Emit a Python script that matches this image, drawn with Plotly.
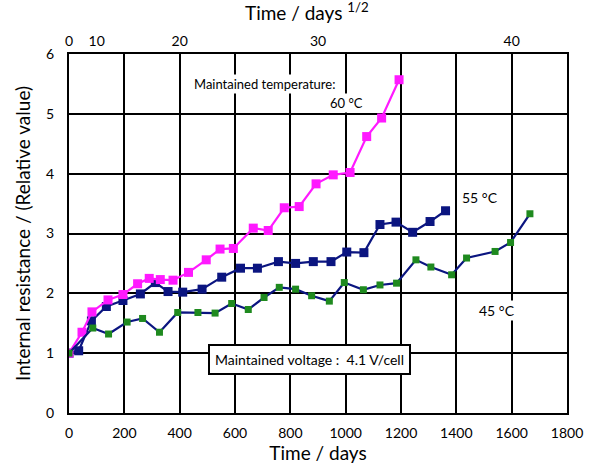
import plotly.graph_objects as go

# 60 °C
days_60 = [0, 47, 83, 141, 195, 248, 290, 330, 376, 432, 496, 546, 594, 666, 720,
           778, 832, 893, 955, 1016, 1076, 1130, 1193]
res_60 = [1.0, 1.35, 1.69, 1.89, 1.98, 2.16, 2.25, 2.23, 2.22, 2.35, 2.56, 2.74, 2.75,
          3.09, 3.05, 3.43, 3.45, 3.83, 3.98, 4.02, 4.62, 4.93, 5.57]

# 55 °C
days_55 = [0, 35, 81, 135, 195, 258, 312, 358, 411, 481, 552, 620, 681, 757, 819, 883,
           947, 1004, 1066, 1124, 1182, 1242, 1305, 1361]
res_55 = [1.0, 1.04, 1.54, 1.78, 1.88, 1.99, 2.18, 2.03, 2.02, 2.07, 2.27, 2.42, 2.42,
          2.53, 2.50, 2.53, 2.53, 2.69, 2.68, 3.15, 3.19, 3.02, 3.20, 3.38]

# 45 °C
days_45 = [0, 86, 143, 210, 266, 327, 393, 466, 528, 588, 648, 705, 760, 819, 877, 941,
           995, 1064, 1124, 1184, 1254, 1308, 1383, 1437, 1540, 1596, 1666]
res_45 = [1.0, 1.42, 1.32, 1.52, 1.58, 1.35, 1.68, 1.68, 1.67, 1.83, 1.73, 1.93, 2.10,
          2.07, 1.96, 1.87, 2.18, 2.06, 2.14, 2.17, 2.56, 2.44, 2.31, 2.59, 2.70, 2.85, 3.33]

x_ticks = [0, 200, 400, 600, 800, 1000, 1200, 1400, 1600, 1800]
y_ticks = [0, 1, 2, 3, 4, 5, 6]
sqrt_tick_days = [0, 100, 400, 900, 1600]
sqrt_tick_text = ["0", "10", "20", "30", "40"]

FONT = "Lato"
NAVY = "#0b1580"
MAGENTA = "#ff19ff"
GREEN = "#1f8a1f"

fig = go.Figure()
fig.add_trace(go.Scatter(x=days_55, y=res_55, mode="lines+markers",
                         line=dict(color=NAVY, width=2.2),
                         marker=dict(symbol="square", size=9, color=NAVY),
                         showlegend=False))
fig.add_trace(go.Scatter(x=days_60, y=res_60, mode="lines+markers",
                         line=dict(color=MAGENTA, width=2.2),
                         marker=dict(symbol="square", size=9, color=MAGENTA),
                         showlegend=False))
fig.add_trace(go.Scatter(x=days_45, y=res_45, mode="lines+markers",
                         line=dict(color=NAVY, width=2.2),
                         marker=dict(symbol="square", size=7, color=GREEN),
                         showlegend=False))
# invisible trace for the top axis
fig.add_trace(go.Scatter(x=[0, 1800], y=[0, 0], xaxis="x2", mode="markers",
                         marker=dict(opacity=0), showlegend=False, hoverinfo="skip"))

ann_font = dict(family=FONT, size=13, color="black")
fig.update_layout(
    width=603, height=468,
    margin=dict(l=69, r=36, t=54, b=55),
    paper_bgcolor="white", plot_bgcolor="white",
    font=dict(family=FONT, color="black", size=14),
    xaxis=dict(range=[0, 1800], tickvals=x_ticks, showgrid=True, gridcolor="black",
               gridwidth=2, showline=True, linecolor="black", linewidth=2, mirror=True,
               zeroline=False, ticks="", ticklabelstandoff=6,
               tickfont=dict(family=FONT, size=14),
               title=dict(text="Time / days", font=dict(family=FONT, size=19), standoff=1)),
    xaxis2=dict(range=[0, 1800], overlaying="x", side="top", tickvals=sqrt_tick_days,
                ticktext=sqrt_tick_text, showgrid=False, zeroline=False, ticks="",
                ticklabelstandoff=4, tickfont=dict(family=FONT, size=14), showline=False),
    yaxis=dict(range=[0, 6], tickvals=y_ticks, showgrid=True, gridcolor="black",
               gridwidth=2, showline=True, linecolor="black", linewidth=2, mirror=True,
               zeroline=False, ticks="", ticklabelstandoff=10,
               tickfont=dict(family=FONT, size=14),
               title=dict(text="Internal resistance / (Relative value)",
                          font=dict(family=FONT, size=19), standoff=10)),
    annotations=[
        dict(text="Time / days <sup>1/2</sup>", xref="paper", yref="paper",
             x=0.349, y=1.118, xanchor="left", yanchor="middle", showarrow=False,
             font=dict(family=FONT, size=19)),
        dict(text="Maintained temperature:", x=445, y=5.50, xanchor="left",
             yanchor="middle", showarrow=False, bgcolor="white", font=ann_font),
        dict(text="60 °C", x=1070, y=5.18, xanchor="right", yanchor="middle",
             showarrow=False, bgcolor="white", font=ann_font),
        dict(text="55 °C", x=1413, y=3.60, xanchor="left", yanchor="middle",
             showarrow=False, bgcolor="white", font=dict(family=FONT, size=14)),
        dict(text="45 °C", x=1475, y=1.72, xanchor="left", yanchor="middle",
             showarrow=False, bgcolor="white", font=dict(family=FONT, size=14)),
        dict(text="Maintained voltage :  4.1 V/cell", x=871, y=0.90, xanchor="center",
             yanchor="middle", showarrow=False, bgcolor="white", bordercolor="black",
             borderwidth=2, borderpad=5, font=dict(family=FONT, size=14)),
    ],
)

fig.write_html("out.html")
